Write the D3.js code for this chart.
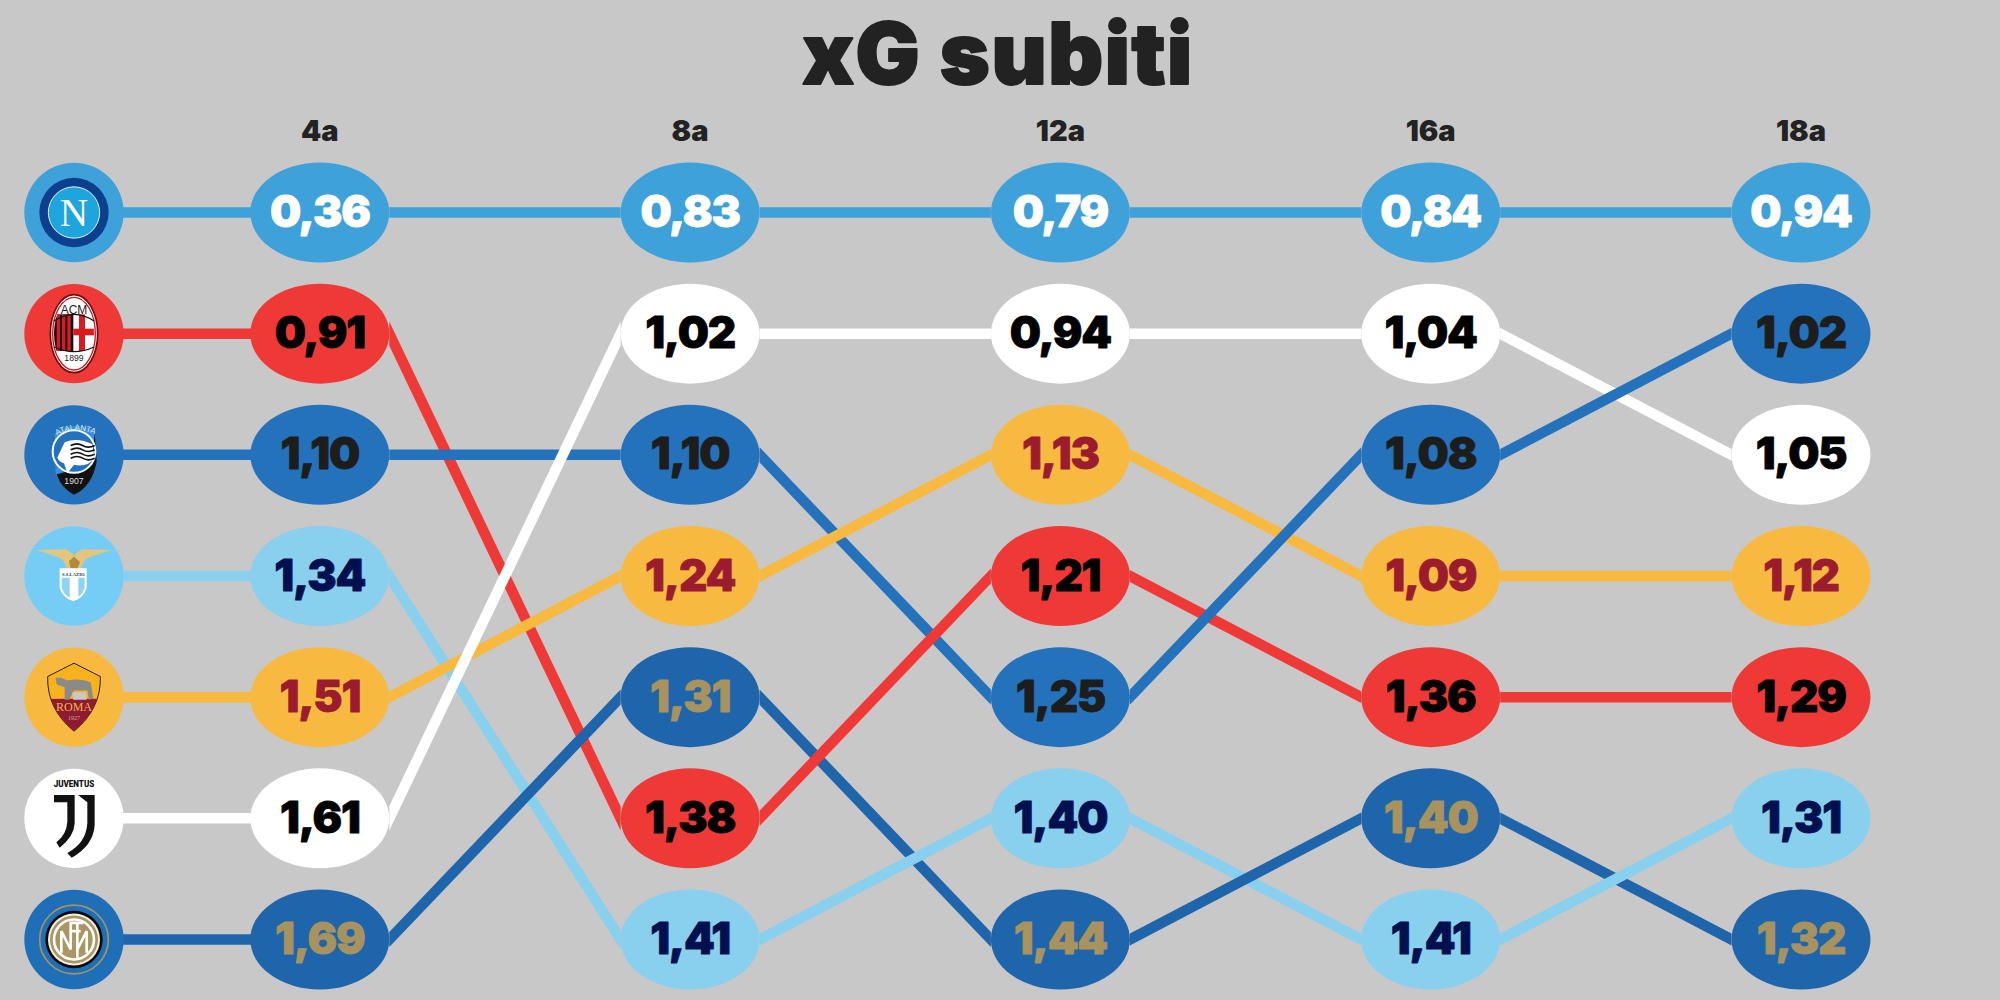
<!DOCTYPE html>
<html><head><meta charset="utf-8">
<script src="https://cdn.jsdelivr.net/npm/d3@7"></script>
<style>html,body{margin:0;padding:0;background:#c8c8c8}svg{display:block}</style>
</head><body><svg id="c" width="2000" height="1000"></svg>
<script>
const title = "xG subiti";
const rounds = ["4a","8a","12a","16a","18a"];
const teams = ["Napoli","Milan","Atalanta","Lazio","Roma","Juventus","Inter"];
const napoli   = [0.36,0.83,0.79,0.84,0.94];
const milan    = [0.91,1.38,1.21,1.36,1.29];
const atalanta = [1.10,1.10,1.25,1.08,1.02];
const lazio    = [1.34,1.41,1.40,1.41,1.31];
const roma     = [1.51,1.24,1.13,1.09,1.12];
const juventus = [1.61,1.02,0.94,1.04,1.05];
const inter    = [1.69,1.31,1.44,1.40,1.32];
const seriesValues = [napoli,milan,atalanta,lazio,roma,juventus,inter];
const fillColors = ["#3fa1da","#ef3936","#2472bc","#89cfee","#f8b941","#ffffff","#1f65ac"];
const logoColors = ["#3fa1da","#ef3936","#2472bc","#75cdf5","#f8b941","#ffffff","#1f6fb8"];
const textColors = ["#ffffff","#000000","#1d1d1b","#02104f","#9b1c2e","#000000","#a8935f"];

const svg = d3.select("#c");
svg.append("rect").attr("width",2000).attr("height",1000).attr("fill","#c8c8c8");
const FONT = "Inter, Roboto, sans-serif";
const x = d3.scalePoint().domain(rounds).range([319.8,1801]);
const y = d3.scalePoint().domain(d3.range(teams.length)).range([212.5,939.5]);
const RX=69.5, RY=50, LW=10.5, LX=74, LR=49.7;
const rankOf = (t,i)=>d3.range(teams.length).sort((a,b)=>seriesValues[a][i]-seriesValues[b][i]).indexOf(t);
const fmt = v=>d3.format(".2f")(v).replace(".",",");

svg.append("text").attr("x",998).attr("y",84).attr("text-anchor","middle")
  .attr("font-family",FONT).attr("font-weight",900).attr("font-size",85).attr("letter-spacing",1.6)
  .attr("fill","#222222").attr("stroke","#222222").attr("stroke-width",2).attr("stroke-linejoin","round").text(title);

svg.selectAll("text.h").data(rounds).join("text").attr("class","h")
  .attr("x",d=>x(d)).attr("y",141).attr("text-anchor","middle")
  .attr("font-family",FONT).attr("font-weight",900).attr("font-size",29).attr("fill","#222222").text(d=>d);

/* stroke of constant perpendicular width, with ends cut vertically at the ellipse edge */
const para=(x1,y1,x2,y2)=>{const w=LW/2*Math.hypot(1,(y2-y1)/(x2-x1));return `M${x1},${y1-w}L${x2},${y2-w}L${x2},${y2+w}L${x1},${y1+w}Z`;};
const segs=[];
teams.forEach((team,t)=>{
  segs.push({t,x1:LX+LR-1,y1:y(t),x2:x(rounds[0])-RX+1,y2:y(rankOf(t,0))});
  for(let i=0;i<rounds.length-1;i++)
    segs.push({t,x1:x(rounds[i])+RX,y1:y(rankOf(t,i)),x2:x(rounds[i+1])-RX,y2:y(rankOf(t,i+1))});
});
/* descending links sit under rising ones */
const dir=s=>s.y2>s.y1?0:(s.y2===s.y1?1:2);
segs.sort((a,b)=>d3.ascending(dir(a),dir(b))||d3.ascending(a.t,b.t));
svg.append("g").selectAll("path").data(segs).join("path")
  .attr("fill",d=>fillColors[d.t]).attr("d",d=>para(d.x1,d.y1,d.x2,d.y2));

teams.forEach((team,t)=>{
  const g=svg.append("g");
  rounds.forEach((r,i)=>{
    const cy=y(rankOf(t,i));
    g.append("ellipse").attr("cx",x(r)).attr("cy",cy).attr("rx",RX).attr("ry",RY).attr("fill",fillColors[t]);
    g.append("text").attr("x",x(r)).attr("y",cy+14.5).attr("text-anchor","middle")
      .attr("font-family",FONT).attr("font-weight",900).attr("font-size",44).attr("letter-spacing",-1.2)
      .attr("fill",textColors[t]).attr("stroke",textColors[t]).attr("stroke-width",0.8).attr("stroke-linejoin","round").text(fmt(seriesValues[t][i]));
  });
});

/* crests, drawn in a local 300x300 box */
const crest = {
 Napoli(g){
  g.append("circle").attr("cx",150).attr("cy",150).attr("r",104).attr("fill","#0c3f8e");
  g.append("circle").attr("cx",150).attr("cy",150).attr("r",77).attr("fill","#1ea5dd").attr("stroke","#dff3fb").attr("stroke-width",3);
  g.append("text").attr("x",150).attr("y",190).attr("text-anchor","middle").attr("font-family","Liberation Serif").attr("font-size",118).attr("fill","#fff").text("N");
 },
 Milan(g){
  g.append("ellipse").attr("cx",150).attr("cy",150).attr("rx",71).attr("ry",117).attr("fill","#fff").attr("stroke","#6e0d12").attr("stroke-width",5);
  g.append("ellipse").attr("cx",150).attr("cy",150).attr("rx",64).attr("ry",109).attr("fill","none").attr("stroke","#c8141c").attr("stroke-width",4);
  g.append("clipPath").attr("id","mc").append("ellipse").attr("cx",150).attr("cy",150).attr("rx",60).attr("ry",106);
  const b=g.append("g").attr("clip-path","url(#mc)");
  b.append("rect").attr("x",88).attr("y",92).attr("width",60).attr("height",110).attr("fill","#111");
  [98,114,130].forEach(v=>b.append("rect").attr("x",v).attr("y",92).attr("width",10).attr("height",110).attr("fill","#d91a21"));
  b.append("rect").attr("x",165).attr("y",92).attr("width",18).attr("height",110).attr("fill","#d91a21");
  b.append("rect").attr("x",148).attr("y",135).attr("width",70).attr("height",20).attr("fill","#d91a21");
  g.append("path").attr("d","M90,112Q150,72 210,112").attr("fill","none").attr("stroke","#111").attr("stroke-width",4);
  g.append("path").attr("d","M90,190Q150,218 210,190").attr("fill","none").attr("stroke","#111").attr("stroke-width",4);
  g.append("text").attr("x",150).attr("y",90).attr("text-anchor","middle").attr("font-family","Liberation Sans").attr("font-size",36).attr("fill","#222").text("ACM");
  g.append("text").attr("x",150).attr("y",232).attr("text-anchor","middle").attr("font-family","Liberation Sans").attr("font-size",26).attr("fill","#222").text("1899");
 },
 Atalanta(g){
  g.append("path").attr("d","M92,85Q150,45 212,80L216,170Q205,245 150,268Q108,245 95,205Z").attr("fill","#3a8fd8");
  g.append("path").attr("d","M212,82L218,170Q205,245 150,270Q110,248 98,208L205,180Z").attr("fill","#111");
  g.append("circle").attr("cx",150).attr("cy",140).attr("r",64).attr("fill","#2472bc").attr("stroke","#fff").attr("stroke-width",6);
  g.append("path").attr("d","M100,158L122,112Q160,96 205,118L212,160Q190,188 150,180L130,205L120,175Q105,172 100,158Z").attr("fill","#fff");
  [122,135,148,160].forEach(v=>g.append("path").attr("d",`M140,${v}Q160,${v-10} 176,${v}T212,${v}`).attr("fill","none").attr("stroke","#111").attr("stroke-width",5));
  g.append("path").attr("id","atArc").attr("d","M98,92Q150,62 212,88").attr("fill","none");
  g.append("text").attr("font-family","Liberation Sans").attr("font-size",24).attr("fill","#d8ecfa")
    .append("textPath").attr("href","#atArc").text("ATALANTA");
  g.append("text").attr("x",150).attr("y",239).attr("text-anchor","middle").attr("font-family","Liberation Sans").attr("font-size",26).attr("fill","#ddd").text("1907");
 },
 Lazio(g){
  g.append("path").attr("d","M35,72L125,70Q145,78 150,92Q155,78 175,70L265,72Q215,85 185,100L170,128L130,128L115,100Q85,85 35,72Z").attr("fill","#e3c57d");
  g.append("path").attr("d","M150,92L168,108L160,128L140,128L135,105Z").attr("fill","#b08a3e");
  g.append("path").attr("d","M107,127L188,127L188,185Q180,215 148,226Q115,215 107,185Z").attr("fill","#fff");
  g.append("path").attr("d","M113,155L182,155L182,185Q175,210 148,220Q120,210 113,185Z").attr("fill","#8fd3f3");
  g.append("rect").attr("x",137).attr("y",155).attr("width",26).attr("height",64).attr("fill","#fff");
  g.append("text").attr("x",148).attr("y",150).attr("text-anchor","middle").attr("font-family","Liberation Serif").attr("font-weight",700).attr("font-size",14).attr("fill","#123a66").text("S.S.LAZIO");
 },
 Roma(g){
  const s="M150,48L229,88Q232,185 150,252Q68,185 71,88Z";
  g.append("path").attr("d",s).attr("fill","#f8b21e").attr("stroke","#2b2014").attr("stroke-width",3);
  g.append("clipPath").attr("id","rc").append("path").attr("d",s);
  g.append("rect").attr("x",60).attr("y",155).attr("width",180).attr("height",100).attr("fill","#8e1a34").attr("clip-path","url(#rc)");
  g.append("path").attr("d","M95,92L112,92L130,100Q170,92 200,105L208,155L195,158L190,130L150,130L135,158L122,158L122,120L98,112Z").attr("fill","#8a8a8a");
  g.append("path").attr("d","M145,135L185,135L188,158L148,158Z").attr("fill","#c9c9c9");
  g.append("text").attr("x",150).attr("y",193).attr("text-anchor","middle").attr("font-family","Liberation Serif").attr("font-size",36).attr("fill","#f5b53f").text("ROMA");
  g.append("text").attr("x",150).attr("y",220).attr("text-anchor","middle").attr("font-family","Liberation Serif").attr("font-size",18).attr("fill","#d9a58a").text("1927");
 },
 Juventus(g){
  g.append("text").attr("x",150).attr("y",56).attr("text-anchor","middle").attr("font-family","Roboto").attr("font-weight",900).attr("font-size",29).attr("textLength",122).attr("lengthAdjust","spacingAndGlyphs").attr("fill","#111").text("JUVENTUS");
  g.append("path").attr("d","M90,80L152,80L152,165Q150,205 107,238L97,222Q128,198 130,160L130,102L90,102Z").attr("fill","#111");
  g.append("path").attr("d","M162,80L212,80L212,170Q208,232 143,268L130,254Q186,225 190,165L190,102L162,80Z").attr("fill","#111");
 },
 Inter(g){
  g.append("circle").attr("cx",150).attr("cy",150).attr("r",103).attr("fill","none").attr("stroke","#a8935f").attr("stroke-width",5);
  g.append("circle").attr("cx",150).attr("cy",150).attr("r",86).attr("fill","#0a0a0a");
  g.append("circle").attr("cx",150).attr("cy",150).attr("r",78).attr("fill","#f4f0e4");
  g.append("circle").attr("cx",150).attr("cy",150).attr("r",72).attr("fill","#ab9562");
  g.append("circle").attr("cx",150).attr("cy",150).attr("r",60).attr("fill","none").attr("stroke","#fff").attr("stroke-width",8);
  g.append("path").attr("d","M112,190L112,125L140,180L140,100L178,100M140,125L170,125M160,100L160,205M160,180L188,125L188,190").attr("fill","none").attr("stroke","#fff").attr("stroke-width",8);
 }
};
teams.forEach((team,t)=>{
  svg.append("circle").attr("cx",LX).attr("cy",y(t)).attr("r",LR).attr("fill",logoColors[t]);
  const g=svg.append("g").attr("transform",`translate(${LX},${y(t)}) scale(${1/3}) translate(-150,-150)`);
  crest[team](g);
});
</script></body></html>
